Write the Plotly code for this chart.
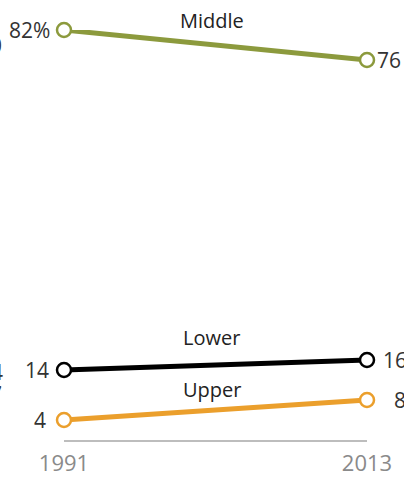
import plotly.graph_objects as go

years = [1991, 2013]
year_labels = ["1991", "2013"]
series_names = ["Middle", "Lower", "Upper"]
middle = [82, 76]
lower = [14, 16]
upper = [4, 8]

colors = {"Middle": "#8c9a3d", "Lower": "#000000", "Upper": "#eb9f2c"}
values = {"Middle": middle, "Lower": lower, "Upper": upper}

FONT = "Open Sans"
fig = go.Figure()

for name in series_names:
    fig.add_trace(go.Scatter(
        x=years, y=values[name], mode="lines+markers",
        line=dict(color=colors[name], width=5),
        marker=dict(size=14, color="white", line=dict(color=colors[name], width=2.5)),
        cliponaxis=False, showlegend=False, hoverinfo="skip",
    ))

# series name labels (placed above each line, mid-chart), paper coordinates
name_pos = {"Middle": (0.487, 1.024), "Lower": (0.487, 0.249), "Upper": (0.487, 0.122)}
for name in series_names:
    fig.add_annotation(x=name_pos[name][0], y=name_pos[name][1], xref="paper", yref="paper",
                       text=name, showarrow=False, xanchor="center", yanchor="middle",
                       font=dict(family=FONT, size=20, color="#222"))

# value labels
left_shift = {"Middle": -12, "Lower": -13, "Upper": -16}
right_shift = {"Middle": 8, "Lower": 14, "Upper": 25}
for name in series_names:
    v = values[name]
    ltxt = f"{v[0]}%" if name == "Middle" else f"{v[0]}"
    fig.add_annotation(x=years[0], y=v[0], text=ltxt, showarrow=False,
                       xanchor="right", yanchor="middle", xshift=left_shift[name],
                       font=dict(family=FONT, size=21, color="#333"))
    fig.add_annotation(x=years[1], y=v[1], text=f"{v[1]}", showarrow=False,
                       xanchor="left", yanchor="middle", xshift=right_shift[name],
                       font=dict(family=FONT, size=21, color="#333"))

# fragments of neighbouring panel cut at the left edge
frag = [("0", 79.0, -60), ("4", 13.6, -59), ("7", 9.2, -60)]
for t, yv, xs in frag:
    fig.add_annotation(x=years[0], y=yv, text=t, showarrow=False,
                       xanchor="right", yanchor="middle", xshift=xs,
                       font=dict(family=FONT, size=21, color="#333"))

fig.update_layout(
    width=404, height=479,
    margin=dict(l=64, r=37, t=30, b=39, autoexpand=False),
    paper_bgcolor="white", plot_bgcolor="white",
    xaxis=dict(range=[years[0], years[1]], tickvals=years, ticktext=year_labels,
               showgrid=False, zeroline=False, showline=True, automargin=False,
               linecolor="#bdbdbd", linewidth=1.5, ticks="", ticklabelstandoff=3,
               tickfont=dict(family=FONT, size=22, color="#8a8a8a")),
    yaxis=dict(range=[0, 82], showgrid=False, zeroline=False, showline=False,
               showticklabels=False, ticks="", automargin=False),
)

fig.write_html("out.html", config={"displayModeBar": False},
               post_script="document.body.style.margin='0';document.body.style.overflow='hidden';")
